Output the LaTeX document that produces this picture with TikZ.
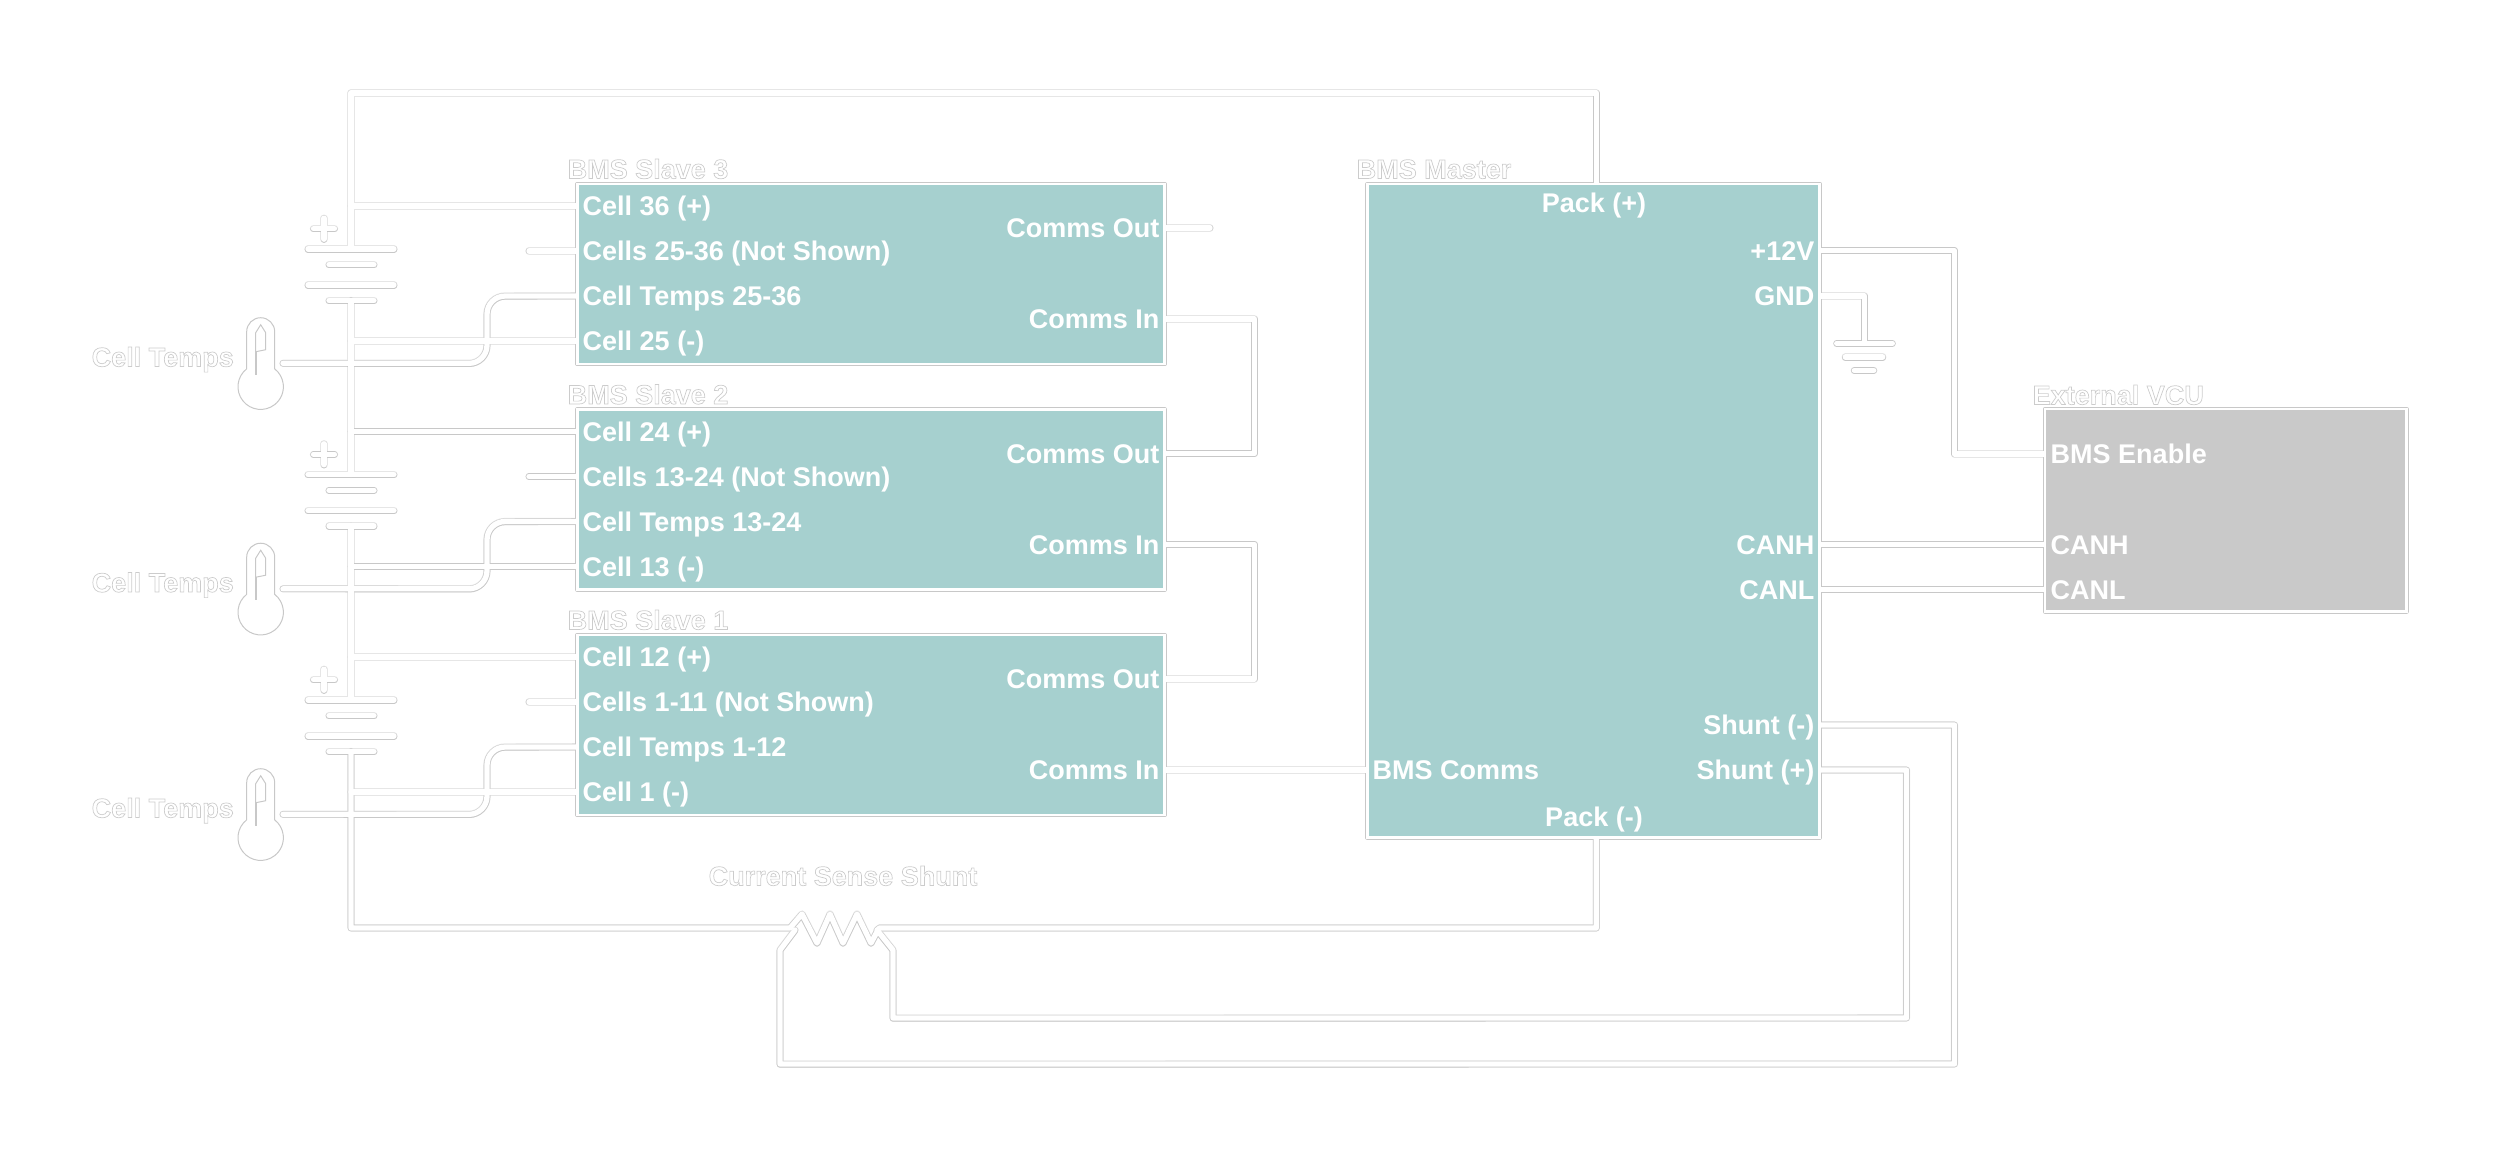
\documentclass[tikz,border=0pt]{standalone}
\usepackage{fontspec}
\setmainfont{Liberation Sans}
\usetikzlibrary{backgrounds}
\pgfdeclarelayer{boxes}
\pgfsetlayers{background,main,boxes}
\definecolor{slaveteal}{HTML}{A6D0CF}
\definecolor{vcugray}{HTML}{C9C9C9}
\definecolor{wireedge}{HTML}{E6E6E6}
\definecolor{wireshadow}{HTML}{C8C8C8}
\newcommand{\labelfont}{\fontsize{7.68pt}{9pt}\selectfont\bfseries}
\newcommand{\outlined}[1]{\special{pdf:code 1 Tr 0.2 w 0.8 G}#1\special{pdf:code 0 Tr 0 G}}
\tikzset{
  blockbox/.style={shape=rectangle,draw=white,line width=0.025cm,outer sep=0pt,inner sep=0pt},
  slavebox/.style={blockbox,fill=slaveteal,minimum width=5.87cm,minimum height=1.80cm},
  masterbox/.style={blockbox,fill=slaveteal,minimum width=4.52cm,minimum height=6.535cm},
  vcubox/.style={blockbox,fill=vcugray,minimum width=3.615cm,minimum height=2.025cm},
  boxedge/.style={draw=wireshadow,line width=0.043cm,line join=round},
  portl/.style={anchor=west,inner sep=0pt,text=white,font=\labelfont,text height=0.19cm,text depth=0pt},
  portr/.style={portl,anchor=east},
  portc/.style={portl,anchor=center},
  outlabel/.style={anchor=west,inner sep=0pt,font=\labelfont,text height=0.19cm,text depth=0pt},
  wirecasing/.style={line width=0.073cm,color=wireedge,line cap=round,line join=round},
  wireshade/.style={line width=0.066cm,color=wireshadow,line cap=round,line join=round,yshift=-0.004cm},
  wirecore/.style={line width=0.053cm,color=white,line cap=round,line join=round},
  thermo/.pic={
    \draw[color=wireshadow,line width=0.01cm,fill=white] (-14,-55) -- (-14,-17.9) arc[start angle=128,end angle=412,radius=0.227cm] -- (14,-55) arc[start angle=0,end angle=180,radius=0.14cm] -- cycle;
    \draw[color=wireshadow,line width=0.01cm] (-5,-35) -- (-5,-54) -- (0,-62) -- (5,-54) -- (5,-37) -- cycle;
    \draw[color=wireshadow,line width=0.02cm] (-5,-35) -- (-5,-12);
  }
}
\newcommand{\wirepaths}{%
  \draw (Master.north -| TR) -- (TR) -- (TL) -- (B3t);%
  \draw (B3b) -- (B2t);%
  \draw (B2b) -- (B1t);%
  \draw (B1b) -- (BL) -- (SL) -- (802,914) -- (817,943) -- (830,914) -- (843,943) -- (857,914) -- (871,943) -- (SR) -- (BR) -- (Master.south -| BR);%
  % slave 3
  \draw (S3.west |- S3a) -- (S3a -| B3t);%
  \draw (S3.west |- S3b) -- (S3s);%
  \draw (S3.west |- S3d) -- (S3d -| B3b);%
  \draw[rounded corners=0.18cm] (T3) -- (487,363.3) -- (487,296) -- (S3.west |- S3c);%
  % slave 2
  \draw (S2.west |- S2a) -- (S2a -| B3t);%
  \draw (S2.west |- S2b) -- (S2s);%
  \draw (S2.west |- S2d) -- (S2d -| B3b);%
  \draw[rounded corners=0.18cm] (T2) -- (487,588.8) -- (487,521.5) -- (S2.west |- S2c);%
  % slave 1
  \draw (S1.west |- S1a) -- (S1a -| B3t);%
  \draw (S1.west |- S1b) -- (S1s);%
  \draw (S1.west |- S1d) -- (S1d -| B3b);%
  \draw[rounded corners=0.18cm] (T1) -- (487,814.3) -- (487,747) -- (S1.west |- S1c);%
  % batteries
  \draw (308,249) -- (394,249);%
  \draw (329,264.7) -- (374,264.7);%
  \draw (308,285) -- (394,285);%
  \draw (329,300.5) -- (374,300.5);%
  \draw (313.5,228.7) -- (334.5,228.7);%
  \draw (324,218.2) -- (324,239.2);%
  \draw (308,474.5) -- (394,474.5);%
  \draw (329,490.2) -- (374,490.2);%
  \draw (308,510.5) -- (394,510.5);%
  \draw (329,526) -- (374,526);%
  \draw (313.5,454.2) -- (334.5,454.2);%
  \draw (324,443.7) -- (324,464.7);%
  \draw (308,700) -- (394,700);%
  \draw (329,715.7) -- (374,715.7);%
  \draw (308,736) -- (394,736);%
  \draw (329,751.5) -- (374,751.5);%
  \draw (313.5,679.7) -- (334.5,679.7);%
  \draw (324,669.2) -- (324,690.2);%
  % comms chain
  \draw (S3.east |- S3o) -- (S3x);%
  \draw (S3.east |- S3i) -- (S3i -| CX) -- (S2o -| CX) -- (S2.east |- S2o);%
  \draw (S2.east |- S2i) -- (S2i -| CX) -- (S1o -| CX) -- (S1.east |- S1o);%
  \draw (S1.east |- S1i) -- (Master.west |- S1i);%
  % master side
  \draw (Master.east |- M12) -- (M12 -| EX) -- (VE -| EX) -- (VCU.west |- VE);%
  \draw (Master.east |- MG) -- (MG -| GX) -- (GX);%
  \draw (1836.7,343.3) -- (1892.3,343.3);%
  \draw (1845.3,357) -- (1882.7,357);%
  \draw (1854.3,370.3) -- (1873.7,370.3);%
  \draw (Master.east |- MH) -- (VCU.west |- MH);%
  \draw (Master.east |- ML) -- (VCU.west |- ML);%
  % shunt sense
  \draw (Master.east |- MM) -- (MM -| NX) -- (NY -| NX) -- (780,1064) -- (780,950) -- (795,930);%
  \draw (Master.east |- MP) -- (MP -| PX) -- (PY -| PX) -- (893,1018) -- (893,950) -- (877,930);%
}
\begin{document}
\begin{tikzpicture}[x=0.01cm,y=-0.01cm]
  \useasboundingbox (0,0) rectangle (2500,1153);%
  \begin{pgfonlayer}{boxes}
    \node[slavebox] (S3) at (871,274) {};%
    \node[slavebox] (S2) at (871,499.5) {};%
    \node[slavebox] (S1) at (871,725) {};%
    \node[masterbox] (Master) at (1593.5,510.75) {};%
    \node[vcubox] (VCU) at (2225.75,510.25) {};%
    \node[portl] (S3a) at (582,206) {Cell 36 (+)};%
    \node[portl] (S3b) at (582,251) {Cells 25-36 (Not Shown)};%
    \node[portl] (S3c) at (582,296) {Cell Temps 25-36};%
    \node[portl] (S3d) at (582,341) {Cell 25 (-)};%
    \node[portr] (S3o) at (1160,228) {Comms Out};%
    \node[portr] (S3i) at (1160,319) {Comms In};%
    \node[portl] (S2a) at (582,431.5) {Cell 24 (+)};%
    \node[portl] (S2b) at (582,476.5) {Cells 13-24 (Not Shown)};%
    \node[portl] (S2c) at (582,521.5) {Cell Temps 13-24};%
    \node[portl] (S2d) at (582,566.5) {Cell 13 (-)};%
    \node[portr] (S2o) at (1160,453.5) {Comms Out};%
    \node[portr] (S2i) at (1160,544.5) {Comms In};%
    \node[portl] (S1a) at (582,657) {Cell 12 (+)};%
    \node[portl] (S1b) at (582,702) {Cells 1-11 (Not Shown)};%
    \node[portl] (S1c) at (582,747) {Cell Temps 1-12};%
    \node[portl] (S1d) at (582,792) {Cell 1 (-)};%
    \node[portr] (S1o) at (1160,679) {Comms Out};%
    \node[portr] (S1i) at (1160,770) {Comms In};%
    \node[portc] (MPt) at (1594,203) {Pack (+)};%
    \node[portc] (MPb) at (1594,817) {Pack (-)};%
    \node[portr] (M12) at (1815,250.5) {+12V};%
    \node[portr] (MG) at (1815,296) {GND};%
    \node[portr] (MH) at (1815,544.5) {CANH};%
    \node[portr] (ML) at (1815,589.5) {CANL};%
    \node[portr] (MM) at (1815,725) {Shunt (-)};%
    \node[portr] (MP) at (1815,770) {Shunt (+)};%
    \node[portl] (MC) at (1372,770) {BMS Comms};%
    \node[portl] (VE) at (2050,454) {BMS Enable};%
    \node[portl] (VH) at (2050,544.5) {CANH};%
    \node[portl] (VL) at (2050,589.5) {CANL};%
  \end{pgfonlayer}

  \node[outlabel] (L3) at (567,169) {\outlined{BMS Slave 3}};%
  \node[outlabel] (L2) at (567,394.5) {\outlined{BMS Slave 2}};%
  \node[outlabel] (L1) at (567,620) {\outlined{BMS Slave 1}};%
  \node[outlabel] (LM) at (1356,169) {\outlined{BMS Master}};%
  \node[outlabel] (LV) at (2032,395) {\outlined{External VCU}};%
  \node[outlabel] (LS) at (708,876) {\outlined{Current Sense Shunt}};%
  \node[outlabel] (C3) at (91,357) {\outlined{Cell Temps}};%
  \node[outlabel] (C2) at (91,582.5) {\outlined{Cell Temps}};%
  \node[outlabel] (C1) at (91,808) {\outlined{Cell Temps}};%

  \coordinate (TL) at (351,93);%
  \coordinate (TR) at (1596.3,93);%
  \coordinate (B3t) at (351,249);%
  \coordinate (B3b) at (351,300.5);%
  \coordinate (B2t) at (351,474.5);%
  \coordinate (B2b) at (351,526);%
  \coordinate (B1t) at (351,700);%
  \coordinate (B1b) at (351,751.5);%
  \coordinate (BL) at (351,928);%
  \coordinate (BR) at (1596.3,928);%
  \coordinate (SL) at (790,928);%
  \coordinate (SR) at (879,928);%
  \coordinate (S3s) at (529,251);%
  \coordinate (S2s) at (529,476.5);%
  \coordinate (S1s) at (529,702);%
  \coordinate (S3x) at (1210,228);%
  \coordinate (T3) at (283,363.3);%
  \coordinate (T2) at (283,588.8);%
  \coordinate (T1) at (283,814.3);%
  \coordinate (CX) at (1254.5,300);%
  \coordinate (EX) at (1954.3,300);%
  \coordinate (GX) at (1864.5,343.3);%
  \coordinate (NX) at (1954.5,700);%
  \coordinate (NY) at (1000,1064);%
  \coordinate (PX) at (1906.5,700);%
  \coordinate (PY) at (1000,1018);%

  \begin{pgfonlayer}{background}
    \begin{scope}[wirecasing]
      \wirepaths
    \end{scope}
    \begin{scope}[wireshade]
      \wirepaths
    \end{scope}
    \draw[boxedge] (S3.north west) rectangle (S3.south east);%
    \draw[boxedge] (S2.north west) rectangle (S2.south east);%
    \draw[boxedge] (S1.north west) rectangle (S1.south east);%
    \draw[boxedge] (Master.north west) rectangle (Master.south east);%
    \draw[boxedge] (VCU.north west) rectangle (VCU.south east);%
  \end{pgfonlayer}
  \begin{scope}[wirecore]
    \wirepaths
  \end{scope}

  \pic at (260.7,386.7) {thermo};%
  \pic at (260.7,612.2) {thermo};%
  \pic at (260.7,837.7) {thermo};%
\end{tikzpicture}
\end{document}
